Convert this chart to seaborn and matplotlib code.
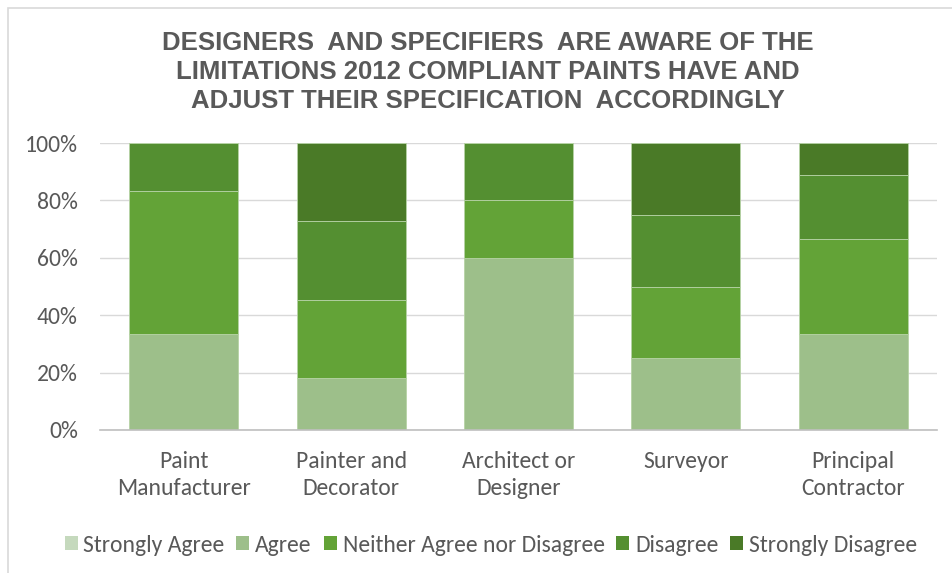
import matplotlib
matplotlib.use("Agg")
import matplotlib.pyplot as plt
import seaborn as sns
import numpy as np
import pandas as pd
from matplotlib.patches import Rectangle

# Survey responses (% of respondents per group)
categories = ["Paint\nManufacturer", "Painter and\nDecorator", "Architect or\nDesigner",
              "Surveyor", "Principal\nContractor"]
strongly_agree = [0.0, 0.0, 0.0, 0.0, 0.0]
agree = [33.33, 18.18, 60.0, 25.0, 33.33]
neither = [50.0, 27.27, 20.0, 25.0, 33.33]
disagree = [16.67, 27.27, 20.0, 25.0, 22.22]
strongly_disagree = [0.0, 27.27, 0.0, 25.0, 11.11]

series_names = ["Strongly Agree", "Agree", "Neither Agree nor Disagree",
                "Disagree", "Strongly Disagree"]
series_values = [strongly_agree, agree, neither, disagree, strongly_disagree]
series_colors = ["#C5D9BD", "#9DBF8A", "#63A337", "#548F31", "#4A7A27"]

title = ("DESIGNERS  AND SPECIFIERS  ARE AWARE OF THE\n"
         "LIMITATIONS 2012 COMPLIANT PAINTS HAVE AND\n"
         "ADJUST THEIR SPECIFICATION  ACCORDINGLY")

sns.set_theme(style="white")
label_font = ["Carlito", "Lato", "DejaVu Sans"]
plt.rcParams["font.family"] = label_font

W, H = 953, 573
fig = plt.figure(figsize=(W / 100, H / 100), dpi=100)
ax = fig.add_axes([100 / W, 1 - 430 / H, 837 / W, 287 / H])

df = pd.DataFrame({"category": categories})
bottom = np.zeros(len(categories))
for name, vals, col in zip(series_names, series_values, series_colors):
    df["value"] = vals
    sns.barplot(data=df, x="category", y="value", bottom=bottom, color=col,
                width=0.65, label=name, ax=ax, edgecolor="#B7D3A6",
                linewidth=0.6 if max(vals) > 0 else 0, saturation=1)
    bottom = bottom + np.asarray(vals)

ax.set_xlim(-0.5, 4.5)
ax.set_ylim(0, 100)
ax.set_yticks(np.arange(0, 101, 20))
ax.set_yticklabels([f"{v}%" for v in range(0, 101, 20)])
ax.set_xlabel("")
ax.set_ylabel("")
ax.yaxis.grid(True, color="#D9D9D9", linewidth=1)
ax.set_axisbelow(True)
for s in ["top", "right", "left"]:
    ax.spines[s].set_visible(False)
ax.spines["bottom"].set_color("#BFBFBF")
ax.spines["bottom"].set_linewidth(1.2)
ax.tick_params(axis="both", length=0, colors="#595959", labelsize=17)
ax.tick_params(axis="y", pad=16)
ax.tick_params(axis="x", pad=15)
for t in ax.get_xticklabels():
    t.set_linespacing(1.38)

# Chart title
fig.text(488 / W, 1 - 72 / H, title, ha="center", va="center", color="#595959",
         fontsize=18.5, fontweight="bold", linespacing=1.28,
         family=["Liberation Sans", "DejaVu Sans"])

# Legend below the plot
if ax.get_legend() is not None:
    ax.get_legend().remove()
handles = [Rectangle((0, 0), 1, 1, facecolor=c, edgecolor="none") for c in series_colors]
fig.legend(handles, series_names, loc="center", bbox_to_anchor=(491 / W, 1 - 545 / H),
           ncol=5, frameon=False, fontsize=17, handlelength=0.55, handleheight=0.55,
           handletextpad=0.25, columnspacing=0.5, labelcolor="#595959")

# Chart area border
fig.patches.append(Rectangle((8 / W, -0.1), 1.1, 1 - 8 / H + 0.1, transform=fig.transFigure,
                             fill=False, edgecolor="#D9D9D9", linewidth=1.2))

fig.savefig("out.png", dpi=100, facecolor="white")
